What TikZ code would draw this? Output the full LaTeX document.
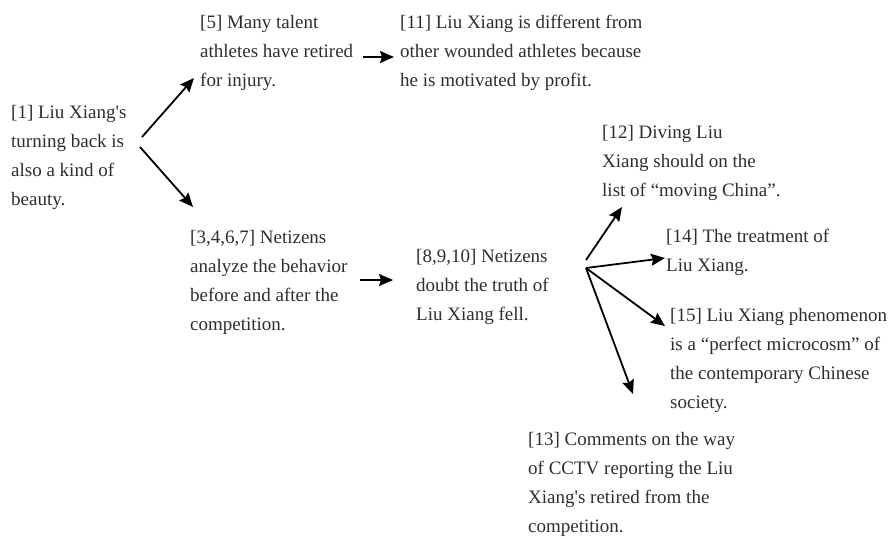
\documentclass[tikz,border=0pt]{standalone}
\usepackage{fontspec}
\setmainfont{Liberation Serif}
\usetikzlibrary{arrows.meta}
\begin{document}
\begin{tikzpicture}[x=1pt,y=-1pt,
  % each statement is placed by the baseline of its last line
  txt/.style={anchor=base west,inner sep=0pt,align=left,text=black!82,
    font=\fontsize{19pt}{28.8pt}\selectfont},
  link/.style={line width=1.8pt,-{Stealth[length=14pt,width=12pt,inset=2pt]}}]
\useasboundingbox (0,0) rectangle (891,539);

% statements
\node[txt] (n1)  at (11,205)  {[1] Liu Xiang\textquotesingle s\\turning back is\\also a kind of\\beauty.};
\node[txt] (n5)  at (200,86)  {[5] Many talent\\athletes have retired\\for injury.};
\node[txt] (n11) at (400,86)  {[11] Liu Xiang is different from\\other wounded athletes because\\he is motivated by profit.};
\node[txt] (n3)  at (190,330) {[3,4,6,7] Netizens\\analyze the behavior\\before and after the\\competition.};
\node[txt] (n8)  at (416,320) {[8,9,10] Netizens\\doubt the truth of\\Liu Xiang fell.};
\node[txt] (n12) at (602,196) {[12] Diving Liu\\Xiang should on the\\list of “moving China”.};
\node[txt] (n14) at (666,271) {[14] The treatment of\\Liu Xiang.};
\node[txt] (n15) at (670,408) {[15] Liu Xiang phenomenon\\is a “perfect microcosm” of\\the contemporary Chinese\\society.};
\node[txt] (n13) at (528,532) {[13] Comments on the way\\of CCTV reporting the Liu\\Xiang\textquotesingle s retired from the\\competition.};

% connector end points
\coordinate (s1a) at (142,137);  \coordinate (t5)  at (194,78);
\coordinate (s1b) at (140,147);  \coordinate (t3)  at (193,207);
\coordinate (s5)  at (363,57);   \coordinate (t11) at (394,57);
\coordinate (s3)  at (360,280);  \coordinate (t8)  at (393,280);
\coordinate (s8a) at (586,260);  \coordinate (t12) at (622,207);
\coordinate (fan) at (586,268);
\coordinate (t14) at (665,258);
\coordinate (t15) at (665,326);
\coordinate (t13) at (633,394);

% connectors
\draw[link] (s1a) -- (t5);
\draw[link] (s1b) -- (t3);
\draw[link] (s5) -- (t11);
\draw[link] (s3) -- (t8);
\draw[link] (s8a) -- (t12);
\draw[link] (fan) -- (t14);
\draw[link] (fan) -- (t15);
\draw[link] (fan) -- (t13);
\end{tikzpicture}
\end{document}
